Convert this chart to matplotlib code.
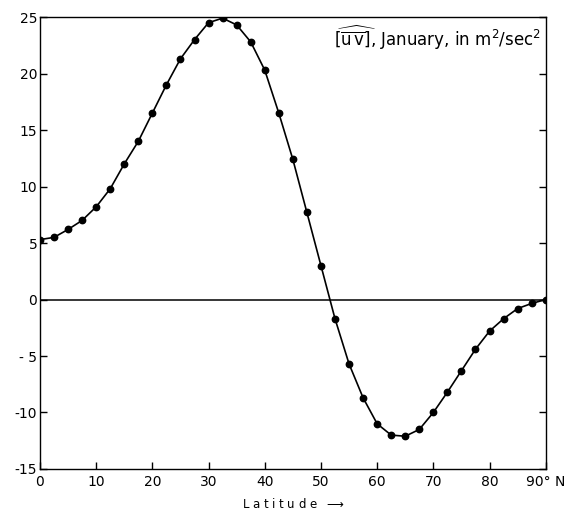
import numpy as np
import matplotlib
matplotlib.use("Agg")
import matplotlib.pyplot as plt

plt.rcParams['font.family'] = ['DejaVu Sans']
plt.rcParams['mathtext.fontset'] = 'dejavusans'

# latitude every 2.5 degrees
lat = np.arange(0, 90.1, 2.5)
uv = [5.3, 5.5, 6.2, 7.0, 8.2, 9.8, 12.0, 14.0, 16.5, 19.0,
      21.3, 23.0, 24.5, 24.9, 24.3, 22.8, 20.3, 16.5, 12.4, 7.7,
      3.0, -1.7, -5.7, -8.7, -11.0, -12.0, -12.1, -11.5, -10.0, -8.2,
      -6.3, -4.4, -2.8, -1.7, -0.8, -0.35, 0.0]

xticks = [0, 10, 20, 30, 40, 50, 60, 70, 80, 90]
xlabels = ['0', '10', '20', '30', '40', '50', '60', '70', '80', '90° N']
yticks = [-15, -10, -5, 0, 5, 10, 15, 20, 25]
ylabels = ['-15', '-10', '- 5', '0', '5', '10', '15', '20', '25']

fig = plt.figure(figsize=(5.81, 5.11), dpi=100)
ax = fig.add_axes([0.0688, 0.0822, 0.8705, 0.8845])

ax.axhline(0, color='black', lw=1.1)
ax.plot(lat, uv, color='black', lw=1.2, marker='o', ms=4.6)

ax.set_xlim(0, 90)
ax.set_ylim(-15, 25)
ax.set_xticks(xticks)
ax.set_xticklabels(xlabels)
ax.set_yticks(yticks)
ax.set_yticklabels(ylabels)
ax.tick_params(direction='in', length=5, width=1, labelsize=10, right=True, pad=2)
ax.tick_params(axis='x', pad=4)
for s in ax.spines.values():
    s.set_linewidth(1.0)

ax.text(0.99, 0.985, r'$\widehat{[\overline{\mathrm{u\,v}}]}$, January, in m$^2$/sec$^2$',
        transform=ax.transAxes, ha='right', va='top', fontsize=12)

ax.set_xlabel(r'L a t i t u d e  $\longrightarrow$', fontsize=8.5, labelpad=6)

fig.savefig('out.png', dpi=100)
